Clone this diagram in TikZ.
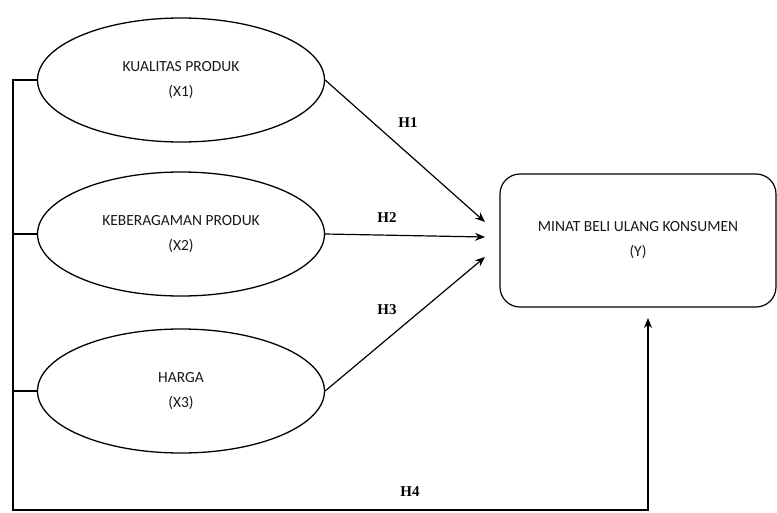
\documentclass[tikz,border=0pt]{standalone}
\usepackage{fontspec}
\setmainfont{Carlito}
\newfontfamily\labfont{Liberation Serif}
\usetikzlibrary{shapes.geometric,arrows.meta}
\newcommand{\hyp}[1]{{\labfont\bfseries #1}}

\begin{document}
\begin{tikzpicture}[x=1pt,y=-1pt,
  var/.style={draw, ellipse, line width=1.3pt, minimum width=287pt, minimum height=124pt, align=center, font=\fontsize{15.5}{25}\selectfont, text=black!90},
  dep/.style={draw, rounded corners=20pt, line width=1.2pt, minimum width=276pt, minimum height=133pt, align=center, font=\fontsize{15.5}{25}\selectfont, text=black!90},
  hl/.style={font=\fontsize{15}{18}\selectfont},
  every path/.style={line width=1.2pt},
  >={Stealth[length=10pt,width=8pt]}]
 \useasboundingbox (0,0) rectangle (777,512);

 \node[var] (x1) at (181, 80)  {KUALITAS PRODUK\\(X1)};
 \node[var] (x2) at (181, 234) {KEBERAGAMAN PRODUK\\(X2)};
 \node[var] (x3) at (181, 391) {HARGA\\(X3)};
 \node[dep] (y)  at (638, 240.5) {MINAT BELI ULANG KONSUMEN\\(Y)};

 \coordinate (t1) at (485, 222);
 \coordinate (t2) at (485, 237);
 \coordinate (t3) at (485, 257);
 \coordinate (t4) at (648, 318);
 \coordinate (corner) at (13, 510);

 \draw[->] (x1.east) to (t1);
 \draw[->] (x2.east) to (t2);
 \draw[->] (x3.east) to (t3);

 % lines from the left
 \draw[->] (x1.west) -| (corner) -| (t4);
 \draw (x2.west) -- (x2.west -| corner);
 \draw (x3.west) -- (x3.west -| corner);

 \node[hl] (h1) at (408, 123) {\hyp{H1}};
 \node[hl] (h2) at (387, 218) {\hyp{H2}};
 \node[hl] (h3) at (387, 310) {\hyp{H3}};
 \node[hl] (h4) at (410, 492) {\hyp{H4}};
\end{tikzpicture}
\end{document}
